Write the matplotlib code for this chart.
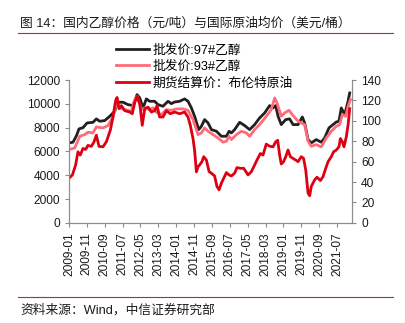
import numpy as np
import matplotlib
matplotlib.use("Agg")
import matplotlib.pyplot as plt
from matplotlib.lines import Line2D

plt.rcParams['font.family'] = ['Liberation Sans', 'Noto Sans CJK SC', 'DejaVu Sans']

# months since 2009-01
m97 = [0, 2.2, 4.1, 5.6, 7.8, 10.1, 13.4, 15.3, 17.2, 20, 22.8, 25.6, 27.4, 30.2, 33, 35.8,
       38.1, 39.6, 41.4, 43.3, 45.1, 47.9, 49.8, 52.6, 55.4, 57.3, 59.1, 61.9, 64.7, 66.6,
       68.5, 70.3, 72.6, 74.1, 75.9, 77.8, 79.7, 82.5, 85.3, 88.1, 89.6, 90.9, 92.7, 95.5,
       98.3, 101.1, 103.9, 106.7, 109.5, 112.3, 114.2, 115.7, 117, 118.8, 121.3, 123.5,
       125.4, 128.2, 130.6, 131.9, 133.8, 135.6, 138.4, 141.2, 143.1, 145.5, 147.8, 149.6,
       151.1, 152.4, 154.3, 156.2, 157.1]
v97 = [6720, 6780, 7300, 7900, 8000, 8400, 8450, 8740, 8540, 8600, 8960, 9380, 10140, 10140,
       9940, 9860, 10780, 10500, 9660, 10420, 10220, 10220, 9940, 9800, 10220, 10020, 10160,
       10220, 10420, 10220, 9660, 8960, 7840, 8120, 8680, 8400, 7840, 7700, 7280, 7280, 7700,
       7560, 7840, 8450, 8180, 7840, 8260, 8820, 9240, 9860, 9660, 9860, 8960, 8260, 8680,
       8740, 8260, 8260, 8900, 8400, 7000, 6720, 7000, 6780, 7140, 7980, 8260, 8480, 8540,
       9660, 9100, 10220, 10920]

m93 = [0, 3.2, 6, 8.8, 10.6, 13.4, 15.3, 19, 21.8, 24.6, 26.5, 28.4, 31.2, 34.9, 36.8, 38.2,
       40.5, 42.4, 44.8, 47, 48.9, 51.7, 54.5, 57.3, 60.1, 63.8, 66.6, 69.4, 72.2, 74.1, 75.9,
       77.8, 80.6, 83.4, 86.2, 88.1, 89.6, 90.9, 93.7, 96.5, 99.3, 101.1, 103.9, 106.7, 110.4,
       113.2, 115.1, 116.4, 118.8, 120.7, 123.1, 125.4, 128.2, 130, 131.9, 133.8, 135.6,
       138.4, 141.2, 144, 146.8, 149.6, 151.5, 153, 154.9, 156.2, 157.5]
v93 = [6160, 6300, 7280, 7420, 7620, 7560, 8060, 7980, 8180, 8900, 9940, 9660, 9520, 9380,
       10360, 10640, 9520, 9660, 9520, 9660, 9300, 9100, 9520, 9460, 9580, 9580, 9460, 8680,
       7420, 7560, 7980, 7700, 7420, 7140, 6780, 6860, 7280, 7000, 7420, 7700, 7560, 7280,
       7840, 8260, 8960, 9520, 10500, 10080, 8960, 9240, 9460, 9020, 8540, 8400, 8260, 6860,
       6440, 6580, 6380, 7140, 7700, 8120, 8260, 9100, 8960, 9800, 10360]

mbr = [0, 1.9, 3.7, 5, 6.3, 7.8, 9.3, 10.6, 12.5, 14, 15.3, 16.8, 19, 20.9, 23.1, 24.6, 26.1,
       26.9, 28, 29.3, 31.2, 34, 35.4, 36.8, 38.1, 39.6, 41, 42.4, 44.2, 46.1, 47.9, 49.3,
       50.7, 52.6, 54.5, 56.7, 59.1, 61.9, 64.7, 66.6, 67.9, 69.4, 70.3, 71.3, 72.2, 73.1,
       74.4, 75.4, 76.9, 78.4, 79.7, 81.5, 82.8, 84, 85.3, 86.6, 88.1, 89.6, 90.9, 92.7, 94,
       95.9, 97.8, 100.2, 102.1, 103.9, 105.2, 107.1, 108.6, 110.4, 112.3, 114.2, 115.7,
       116.8, 117.9, 118.8, 120.1, 121.3, 122.6, 123.9, 125.4, 126.9, 128.2, 130, 131.3,
       132.5, 133.8, 134.7, 135.6, 137.5, 138.8, 140.7, 142.2, 143.7, 145, 146.8, 148.1,
       149.6, 151.1, 151.9, 153, 153.9, 155.2, 156.3, 157.1]
vbr = [43.8, 47, 56.8, 69.7, 66.5, 73, 72, 76, 75, 79.5, 86, 75, 74.6, 79.5, 90.8, 103.8, 120,
       123, 112, 115, 110, 108.7, 107, 118, 124, 116.8, 95.7, 112, 113.5, 108.7, 110, 115,
       103.8, 103.8, 110, 107, 108.7, 107, 108.7, 103.8, 95.7, 82.7, 71, 50, 55, 56.8, 60,
       64.9, 61.6, 50.3, 48.7, 46, 35.7, 32.4, 39, 43.8, 49.3, 47, 46, 48.7, 54.2, 53.5, 53.5,
       47, 50.3, 56.8, 61.6, 68, 66.5, 77.2, 75.2, 74.6, 79.5, 81, 66.5, 57.7, 60, 64.9, 71.4,
       64.9, 63.2, 61.6, 60, 64.9, 63.2, 51.9, 29.2, 26.6, 35.7, 42.2, 44.8, 41.5, 45.4, 53.5,
       60, 64.9, 69.7, 71.4, 74.6, 82.7, 79.5, 74.6, 84.3, 97.3, 112]

tick_pos = list(range(0, 151, 10))
tick_labels = ['2009-01', '2009-11', '2010-09', '2011-07', '2012-05', '2013-03', '2014-01',
               '2014-11', '2015-09', '2016-07', '2017-05', '2018-03', '2019-01', '2019-11',
               '2020-09', '2021-07']

c97 = '#231f20'
c93 = '#ff6b78'
cbr = '#dc0012'
spine_c = '#8c8c8c'

fig = plt.figure(figsize=(4.06, 3.23), dpi=100)
ax = fig.add_axes([0.170, 0.310, 0.697, 0.442])
ax2 = ax.twinx()

ax.plot(m97, v97, color=c97, lw=2)
ax.plot(m93, v93, color=c93, lw=2)
ax2.plot(mbr, vbr, color=cbr, lw=2)

ax.set_xlim(0, 158.4)
ax.set_ylim(0, 12000)
ax2.set_ylim(0, 140)
ax.set_yticks(range(0, 12001, 2000))
ax2.set_yticks(range(0, 141, 20))
ax.set_xticks(tick_pos)
ax.set_xticklabels(tick_labels, rotation=90)

for a in (ax, ax2):
    a.spines['top'].set_visible(False)
    for s in ('left', 'right', 'bottom'):
        a.spines[s].set_color(spine_c)
        a.spines[s].set_linewidth(0.8)
    a.tick_params(colors=spine_c, labelcolor='#1a1a1a', labelsize=8.6, length=3, width=0.8)

# legend
handles = [Line2D([], [], color=c97, lw=2), Line2D([], [], color=c93, lw=2),
           Line2D([], [], color=cbr, lw=2)]
labels = ['批发价:97#乙醇', '批发价:93#乙醇', '期货结算价：布伦特原油']
fig.legend(handles, labels, loc='upper left', bbox_to_anchor=(0.285, 0.863), frameon=False,
           fontsize=9.2, handlelength=2.6, handletextpad=0.3, labelspacing=0.32,
           borderaxespad=0, borderpad=0)

fig.text(0.05, 0.927, '图 14：国内乙醇价格（元/吨）与国际原油均价（美元/桶）', fontsize=9.2,
         color='#1a1a1a', va='center')
fig.add_artist(Line2D([0.045, 0.968], [0.899, 0.899], color='#c8202c', lw=0.8))
fig.add_artist(Line2D([0.045, 0.968], [0.080, 0.080], color='#c8202c', lw=0.8))
fig.text(0.05, 0.040, '资料来源：Wind，中信证券研究部', fontsize=9.2, color='#1a1a1a', va='center')

fig.savefig('out.png', dpi=100)
